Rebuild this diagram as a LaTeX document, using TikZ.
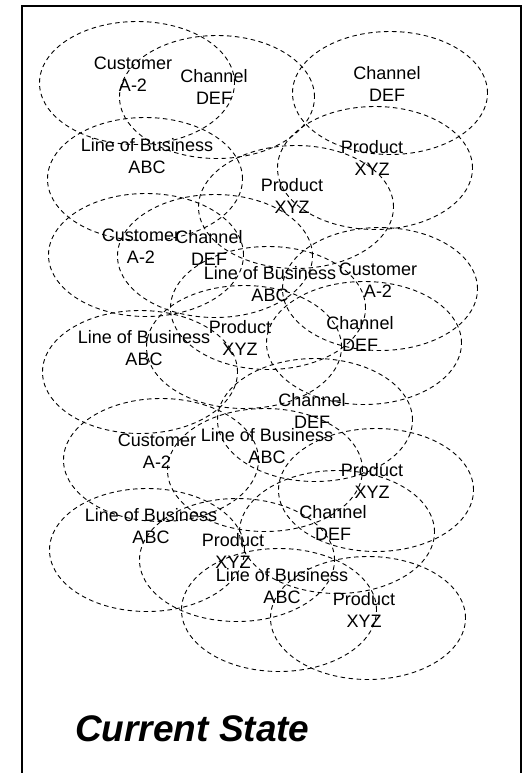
\documentclass[tikz,border=0pt]{standalone}
\usepackage{fontspec}
\setmainfont{Liberation Sans}
\usetikzlibrary{shapes.geometric}
\begin{document}
\begin{tikzpicture}[x=1pt,y=-1pt,
  blob/.style={draw, dash pattern=on 4.5pt off 3.5pt, line width=0.9pt,
    ellipse, minimum width=195pt, minimum height=123pt, inner sep=0pt},
  tag/.style={align=center, inner sep=0pt, font=\fontsize{18}{21.5}\selectfont},
  heading/.style={inner sep=0pt, anchor=base west,
    font=\fontsize{37}{40}\selectfont\bfseries\itshape}]
\useasboundingbox (0,0) rectangle (523,773);
\fill[white] (0,0) rectangle (523,773);

% outer frame, open at the bottom edge of the page
\draw[line width=2pt] (21.8,790) -- (21.8,5.8) -- (520.8,5.8) -- (520.8,790);

% dashed ellipses
\node[blob] (e1)  at (137,83)  {};
\node[blob] (e2)  at (217,97)  {};
\node[blob] (e3)  at (390,93)  {};
\node[blob] (e4)  at (145,179) {};
\node[blob] (e5)  at (375,168) {};
\node[blob] (e6)  at (296,207) {};
\node[blob] (e7)  at (146,255) {};
\node[blob] (e8)  at (215,256) {};
\node[blob] (e9)  at (268,308) {};
\node[blob] (e10) at (380,289) {};
\node[blob] (e11) at (140,372) {};
\node[blob] (e12) at (244,347) {};
\node[blob] (e13) at (364,343) {};
\node[blob] (e14) at (315,420) {};
\node[blob] (e15) at (161,460) {};
\node[blob] (e16) at (265,470) {};
\node[blob] (e17) at (376,490) {};
\node[blob] (e18) at (147,550) {};
\node[blob] (e19) at (237,560) {};
\node[blob] (e20) at (337,532) {};
\node[blob] (e21) at (279,610) {};
\node[blob] (e22) at (368,618) {};

% labels
\node[tag] (t1)  at (133,74)  {Customer\\A-2};
\node[tag] (t2)  at (214,87)  {Channel\\DEF};
\node[tag] (t3)  at (387,84)  {Channel\\DEF};
\node[tag] (t4)  at (147,156) {Line of Business\\ABC};
\node[tag] (t5)  at (372,158) {Product\\XYZ};
\node[tag] (t6)  at (292,196) {Product\\XYZ};
\node[tag] (t7)  at (141,246) {Customer\\A-2};
\node[tag] (t8)  at (209,248) {Channel\\DEF};
\node[tag] (t9)  at (270,284) {Line of Business\\ABC};
\node[tag] (t10) at (378,280) {Customer\\A-2};
\node[tag] (t11) at (144,348) {Line of Business\\ABC};
\node[tag] (t12) at (240,338) {Product\\XYZ};
\node[tag] (t13) at (360,334) {Channel\\DEF};
\node[tag] (t14) at (312,411) {Channel\\DEF};
\node[tag] (t15) at (157,451) {Customer\\A-2};
\node[tag] (t16) at (267,446) {Line of Business\\ABC};
\node[tag] (t17) at (372,481) {Product\\XYZ};
\node[tag] (t18) at (151,526) {Line of Business\\ABC};
\node[tag] (t19) at (233,551) {Product\\XYZ};
\node[tag] (t20) at (333,523) {Channel\\DEF};
\node[tag] (t21) at (282,586) {Line of Business\\ABC};
\node[tag] (t22) at (364,610) {Product\\XYZ};

\node[heading] (title) at (75,741) {Current State};
\end{tikzpicture}
\end{document}
